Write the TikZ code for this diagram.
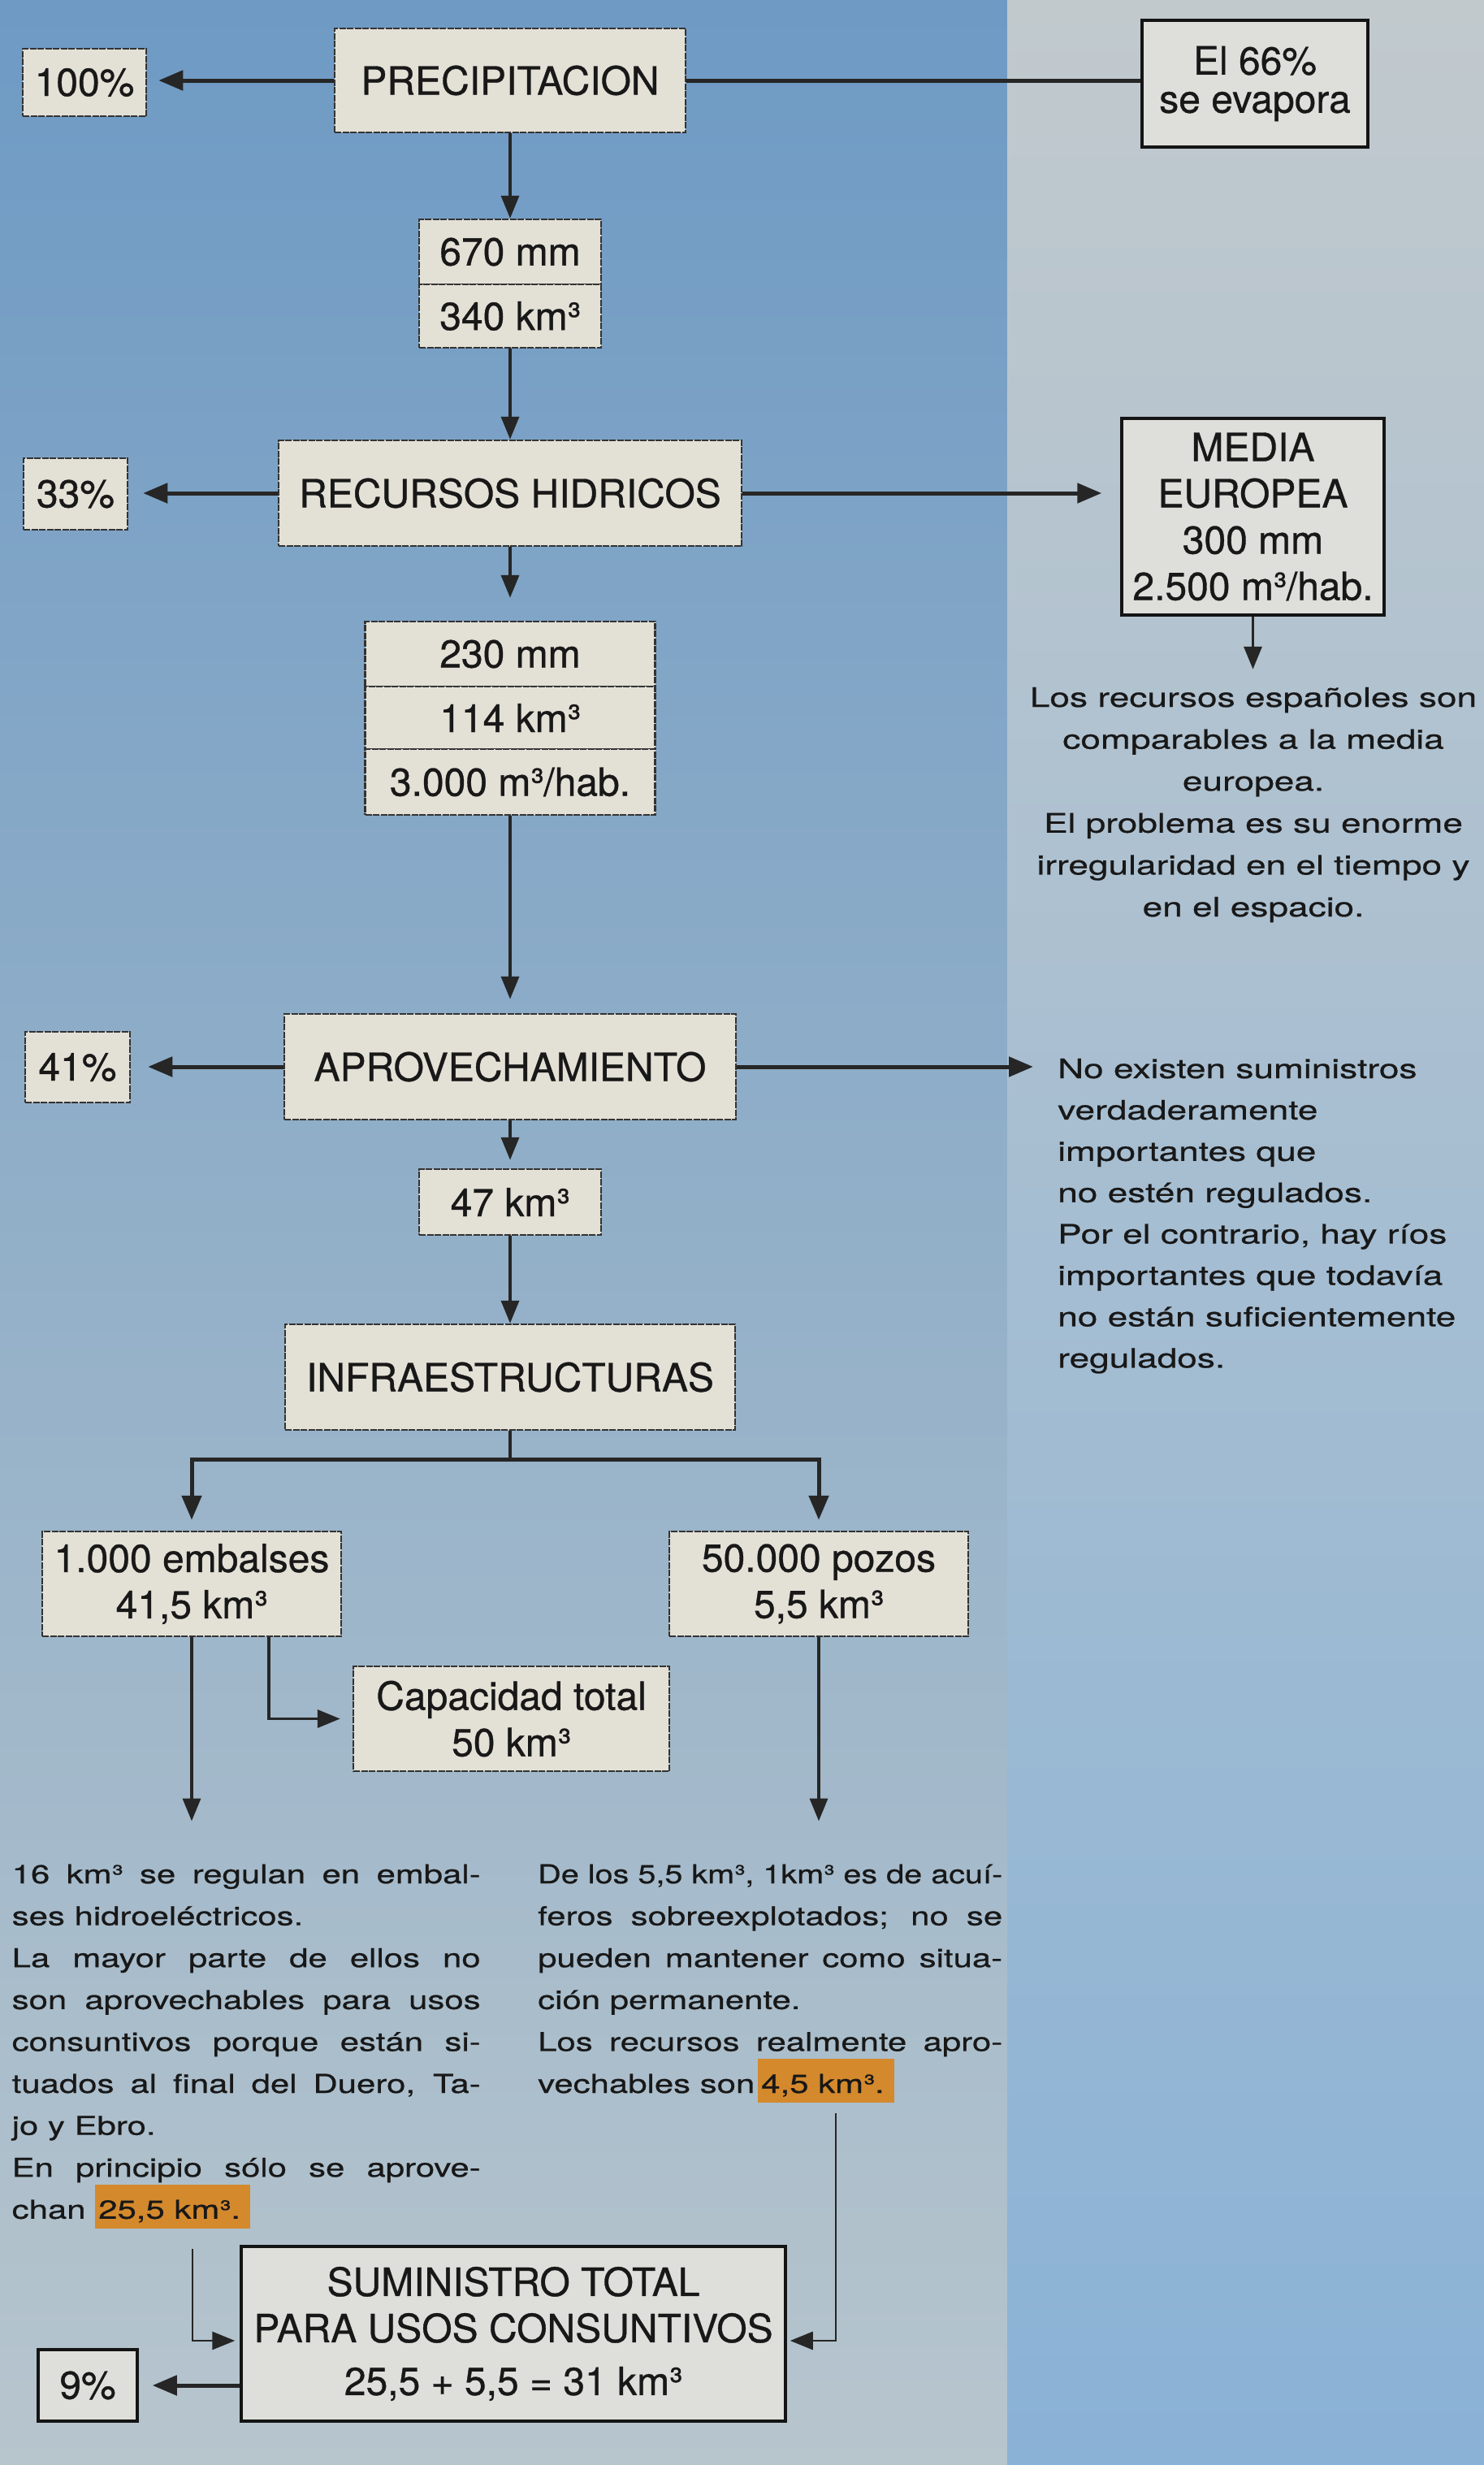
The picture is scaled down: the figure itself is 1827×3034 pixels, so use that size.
\documentclass[tikz,border=0pt]{standalone}
\usepackage{fontspec}
\usepackage{graphicx}
\setmainfont{TeX Gyre Heros}[FakeBold=0.7]
\newfontfamily\boxfam{TeX Gyre Heros}[FakeBold=0.7]
\newfontfamily\bodyR{TeX Gyre Heros}[FakeStretch=1.34,FakeBold=0.6]
\newfontfamily\bodyB{TeX Gyre Heros}[FakeStretch=1.31,FakeBold=0.6]
\usetikzlibrary{arrows.meta}
\definecolor{bgLt}{RGB}{110,154,196}
\definecolor{bgLm}{RGB}{150,179,203}
\definecolor{bgLb}{RGB}{183,197,205}
\definecolor{bgRt}{RGB}{193,201,205}
\definecolor{bgRm}{RGB}{176,195,209}
\definecolor{bgRb}{RGB}{138,178,214}
\definecolor{boxfill}{RGB}{227,224,214}
\definecolor{boxfillk}{RGB}{222,223,218}
\definecolor{hlo}{RGB}{212,137,45}
\definecolor{ink}{RGB}{24,24,24}
\newcommand\boxfont{\boxfam\fontsize{48}{57}\selectfont}
\newcommand\jl[1]{\makebox[\linewidth][s]{#1}}
\newcommand\fitl[1]{\resizebox{\linewidth}{\height}{#1}}
\newcommand\hlt[1]{{\fboxsep=0pt\colorbox{hlo}{\rule[-12pt]{0pt}{54pt}\hspace{4pt}#1\hspace{12pt}}}}
\tikzset{
  gbox/.style={draw=black!80, line width=2.5pt, dash pattern=on 8pt off 1.5pt, fill=boxfill,
    inner sep=0pt, font=\boxfont, align=center, text=ink},
  kbox/.style={draw=black!92, line width=3.5pt, fill=boxfillk,
    inner sep=0pt, font=\boxfont, align=center, text=ink},
  conn/.style={line width=3.5pt, draw=black!85},
  thk/.style={line width=5pt, draw=black!85},
  arr/.style={conn, -{Triangle[length=28pt,width=22pt]}},
  arrT/.style={thk, -{Triangle[length=30pt,width=24pt]}},
  arrS/.style={line width=2.8pt, draw=black!85, -{Triangle[length=28pt,width=22pt]}},
  txt/.style={inner sep=0pt, text=ink}
}
\begin{document}
\begin{tikzpicture}[x=1pt,y=1pt]
\useasboundingbox (0,0) rectangle (1827,-3034);
\shade[top color=bgLt, middle color=bgLm, bottom color=bgLb] (0,0) rectangle (1240,-3034);
\shade[top color=bgRt, middle color=bgRm, bottom color=bgRb] (1240,0) rectangle (1827,-3034);

% boxes
\node[gbox, minimum width=152pt, minimum height=83pt] (b100) at (104,-101.5) {100\%};
\node[gbox, minimum width=432pt, minimum height=128pt] (prec) at (628,-99) {PRECIPITACION};
\node[kbox, minimum width=278pt, minimum height=156pt] (el66) at (1545,-103) {El 66\%\\[-10pt]se evapora};
\node[gbox, minimum width=224pt, minimum height=80pt] (c670) at (628,-310) {670 mm};
\node[gbox, minimum width=224pt, minimum height=78pt] (c340) at (628,-389) {340 km³};
\node[gbox, minimum width=570pt, minimum height=130pt] (rec) at (628,-607) {RECURSOS HIDRICOS};
\node[gbox, minimum width=128pt, minimum height=88pt] (b33) at (93,-608) {33\%};
\node[kbox, minimum width=323pt, minimum height=242pt] (media) at (1542.5,-636) {MEDIA\\EUROPEA\\300 mm\\2.500 m³/hab.};
\node[gbox, minimum width=357pt, minimum height=80pt] (c230) at (628,-805) {230 mm};
\node[gbox, minimum width=357pt, minimum height=77pt] (c114) at (628,-883.5) {114 km³};
\node[gbox, minimum width=357pt, minimum height=81pt] (c3000) at (628,-962.5) {3.000 m³/hab.};
\node[gbox, minimum width=556pt, minimum height=130pt] (aprov) at (628,-1313) {APROVECHAMIENTO};
\node[gbox, minimum width=129pt, minimum height=87pt] (b41) at (95.5,-1313.5) {41\%};
\node[gbox, minimum width=224pt, minimum height=81pt] (c47) at (628,-1479.5) {47 km³};
\node[gbox, minimum width=554pt, minimum height=130pt] (infra) at (628,-1695) {INFRAESTRUCTURAS};
\node[gbox, minimum width=368pt, minimum height=129pt] (emb) at (236,-1949.5) {1.000 embalses\\41,5 km³};
\node[gbox, minimum width=368pt, minimum height=129pt] (poz) at (1008,-1949.5) {50.000 pozos\\5,5 km³};
\node[gbox, minimum width=389pt, minimum height=129pt] (cap) at (629.5,-2115.5) {Capacidad total\\50 km³};
\node[kbox, minimum width=670pt, minimum height=215pt] (sumi) at (632,-2872.5) {SUMINISTRO TOTAL\\PARA USOS CONSUNTIVOS\\[8pt]25,5 + 5,5 = 31 km³};
\node[kbox, minimum width=122pt, minimum height=88pt] (b9) at (108,-2936) {9\%};

% texts
\node[txt, anchor=base] (mtext) at (1543,-870) {\parbox[t]{560pt}{\bodyR\fontsize{33}{51.6}\selectfont\centering
Los recursos españoles son\\ comparables a la media\\ europea.\\ El problema es su enorme\\ irregularidad en el tiempo y\\ en el espacio.}};
\node[txt, anchor=base west] (ntext) at (1302,-1327) {\parbox[t]{520pt}{\bodyR\fontsize{33}{50.9}\selectfont\raggedright
No existen suministros\\ verdaderamente\\ importantes que\\ no estén regulados.\\ Por el contrario, hay ríos\\ importantes que todavía\\ no están suficientemente\\ regulados.}};
\node[txt, anchor=base west] (ltext) at (14.5,-2318) {\parbox[t]{577pt}{\bodyB\fontsize{32}{51.6}\selectfont
\jl{16 km³ se regulan en embal-}\\
ses hidroeléctricos.\\
\jl{La mayor parte de ellos no}\\
\jl{son aprovechables para usos}\\
\jl{consuntivos porque están si-}\\
\jl{tuados al final del Duero, Ta-}\\
jo y Ebro.\\
\jl{En principio sólo se aprove-}\\
chan \hlt{25,5 km³.}}};
\node[txt, anchor=base west] (rtext) at (662,-2318) {\parbox[t]{572pt}{\bodyB\fontsize{32}{51.6}\selectfont
\fitl{De los 5,5 km³, 1km³ es de acuí-}\\
\jl{feros sobreexplotados; no se}\\
\jl{pueden mantener como situa-}\\
ción permanente.\\
\jl{Los recursos realmente apro-}\\
vechables son\hspace{4pt}\hlt{4,5 km³.}}};

% connectors
\draw[arrT, shorten >=14pt] (prec.west) -- (prec.west -| b100.east);
\draw[thk] (prec.east) -- (prec.east -| el66.west);
\draw[arr] (prec.south) -- (c670.north);
\draw[arr] (c340.south) -- (rec.north);
\draw[arrT, shorten >=18pt] (rec.west) -- (rec.west -| b33.east);
\draw[arrT, shorten >=23pt] (rec.east) -- (rec.east -| media.west);
\draw[arr, shorten >=28pt] (rec.south) -- (c230.north);
\draw[arr, shorten >=22pt] (media.south) -- (media.south |- mtext.north);
\draw[arr, shorten >=17pt] (c3000.south) -- (aprov.north);
\draw[arrT, shorten >=21pt] (aprov.west) -- (aprov.west -| b41.east);
\draw[arrT, shorten >=30pt] (aprov.east) -- (aprov.east -| ntext.west);
\draw[arr, shorten >=10pt] (aprov.south) -- (c47.north);
\draw[arr] (c47.south) -- (infra.north);
\coordinate (br) at (628,-1796);
\draw[conn] (infra.south) -- (br);
\draw[arrT, shorten >=13pt] (br) -| (emb.north);
\draw[arrT, shorten >=13pt] (br) -| (poz.north);
\draw[arr, shorten >=53pt] (emb.south) -- (emb.south |- ltext.north);
\draw[arr, shorten >=15pt] ([xshift=95pt]emb.south) |- (cap.west);
\draw[arr, shorten >=53pt] (poz.south) -- (poz.south |- rtext.north);
\coordinate (h1) at (237,-2768);
\coordinate (h2) at (1029,-2601);
\draw[arrS, shorten >=6pt] (h1) |- ([yshift=-8.5pt]sumi.west);
\draw[arrS, shorten >=4pt] (h2) |- ([yshift=-8.5pt]sumi.east);
\draw[arrT, shorten >=17pt] (sumi.west |- b9.east) -- (b9.east);
\end{tikzpicture}
\end{document}
